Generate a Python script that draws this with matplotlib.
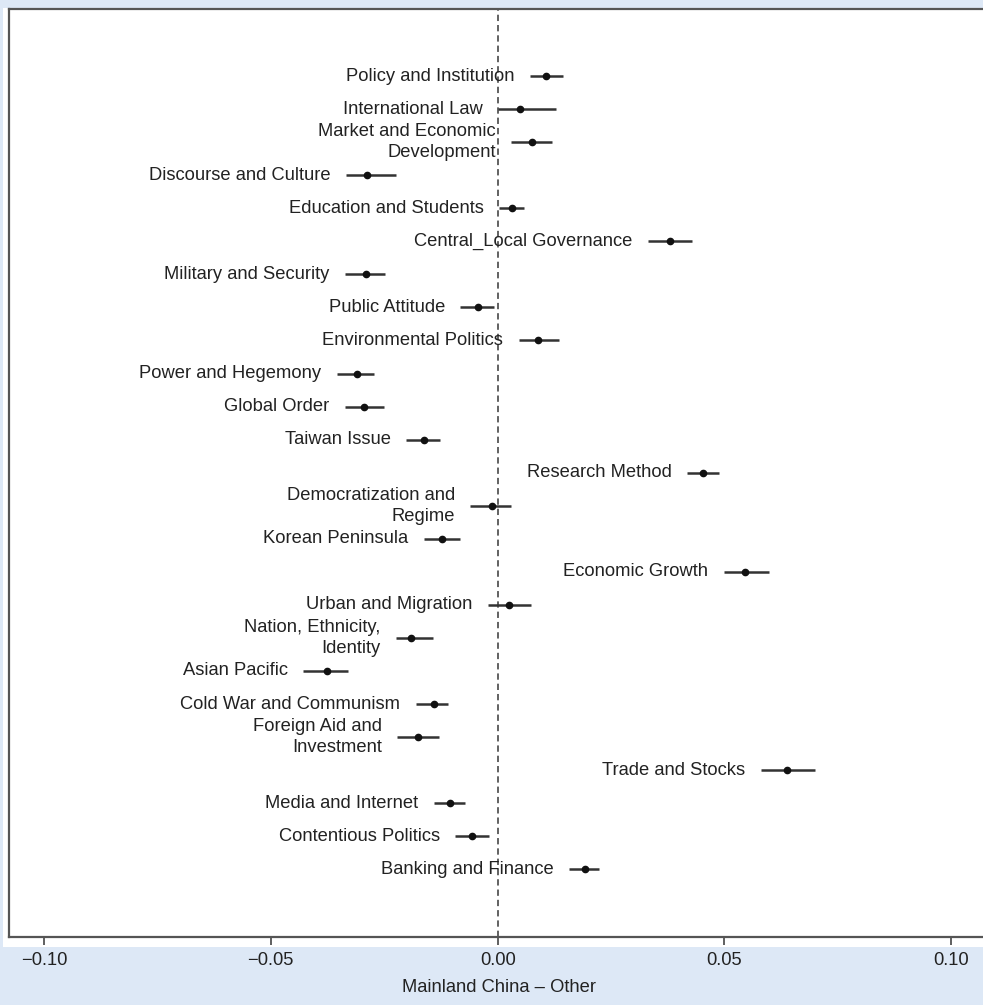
import matplotlib.pyplot as plt
from matplotlib.patches import Rectangle

plt.rcParams['font.family'] = ['Liberation Sans', 'DejaVu Sans']

# topics from top to bottom, point estimate and 95% interval
topics = ['Policy and Institution', 'International Law', 'Market and Economic\nDevelopment',
          'Discourse and Culture', 'Education and Students', 'Central_Local Governance',
          'Military and Security', 'Public Attitude', 'Environmental Politics',
          'Power and Hegemony', 'Global Order', 'Taiwan Issue', 'Research Method',
          'Democratization and\nRegime', 'Korean Peninsula', 'Economic Growth',
          'Urban and Migration', 'Nation, Ethnicity,\nIdentity', 'Asian Pacific',
          'Cold War and Communism', 'Foreign Aid and\nInvestment', 'Trade and Stocks',
          'Media and Internet', 'Contentious Politics', 'Banking and Finance']
estimate = [0.0106, 0.0049, 0.0075, -0.0287, 0.0031, 0.0379, -0.0291, -0.0044, 0.0088,
            -0.0311, -0.0295, -0.0163, 0.0452, -0.0013, -0.0123, 0.0545, 0.0024, -0.0190,
            -0.0377, -0.0141, -0.0176, 0.0637, -0.0106, -0.0057, 0.0192]
lower = [0.0071, 0.0000, 0.0029, -0.0335, 0.0004, 0.0331, -0.0337, -0.0082, 0.0046,
         -0.0355, -0.0337, -0.0201, 0.0417, -0.0060, -0.0163, 0.0498, -0.0022, -0.0225,
         -0.0428, -0.0181, -0.0221, 0.0580, -0.0141, -0.0093, 0.0157]
upper = [0.0143, 0.0128, 0.0119, -0.0225, 0.0057, 0.0428, -0.0249, -0.0007, 0.0135,
         -0.0273, -0.0251, -0.0128, 0.0487, 0.0029, -0.0084, 0.0598, 0.0073, -0.0143,
         -0.0329, -0.0110, -0.0130, 0.0699, -0.0071, -0.0020, 0.0223]
xticks = [-0.10, -0.05, 0.00, 0.05, 0.10]
xticklabels = ['\u22120.10', '\u22120.05', '0.00', '0.05', '0.10']

fig = plt.figure(figsize=(9.83, 10.05), dpi=100, facecolor='#dde8f6')
fig.patches.append(Rectangle((3 / 983, 1 - 947 / 1005), 1, 947 / 1005 - 8 / 1005,
                             transform=fig.transFigure, facecolor='white',
                             edgecolor='none', zorder=-10))
ax = fig.add_axes([9 / 983, 1 - 937 / 1005, 980 / 983, 928 / 1005])

pos = list(range(len(topics)))
ax.axvline(0, color='#555555', linestyle=(0, (3.5, 2.2)), linewidth=1.3, zorder=1)
ax.hlines(pos, lower, upper, color='#333333', linewidth=1.8, zorder=2)
ax.plot(estimate, pos, 'o', color='#111111', markersize=4.5, zorder=3)

for y, lab, lo in zip(pos, topics, lower):
    ax.annotate(lab, (lo, y), xytext=(-11, 0), textcoords='offset points',
                ha='right', va='center', fontsize=13.2, color='#222222',
                multialignment='right', linespacing=1.3)

ax.set_xlim(-0.1077, 0.1083)
ax.set_ylim(len(topics) + 1.05, -2.03)
ax.set_yticks([])
ax.set_xticks(xticks)
ax.set_xticklabels(xticklabels, fontsize=13.2, color='#222222')
ax.tick_params(axis='x', direction='out', length=6, width=1.2, color='#444444', pad=5)
ax.set_xlabel('Mainland China \u2013 Other', fontsize=13.2, color='#222222', labelpad=7)
for s in ax.spines.values():
    s.set_color('#555555')
    s.set_linewidth(1.6)

fig.savefig('out.png', dpi=100, facecolor=fig.get_facecolor())
